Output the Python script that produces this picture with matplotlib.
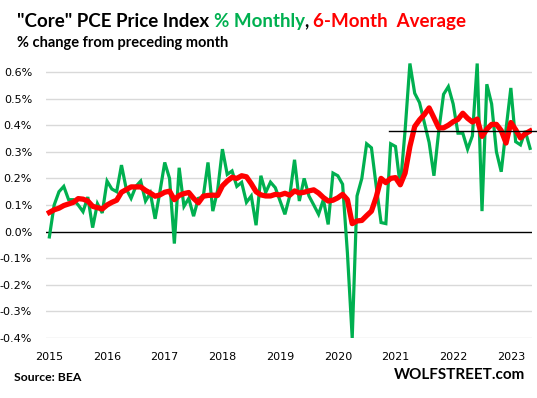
import matplotlib
matplotlib.use("Agg")
import matplotlib.pyplot as plt
from matplotlib.ticker import FuncFormatter

# monthly % change, Jan 2015 .. May 2023
monthly = [-0.02, 0.10, 0.15, 0.17, 0.12, 0.12, 0.10, 0.075, 0.13, 0.015, 0.105, 0.07,
           0.19, 0.16, 0.15, 0.25, 0.16, 0.125, 0.17, 0.19, 0.115, 0.145, 0.048, 0.15,
           0.26, 0.20, -0.045, 0.24, 0.095, 0.125, 0.058, 0.125, 0.13, 0.26, 0.077, 0.155,
           0.31, 0.215, 0.228, 0.17, 0.185, 0.11, 0.134, 0.024, 0.21, 0.147, 0.186, 0.165,
           0.115, 0.065, 0.134, 0.27, 0.115, 0.20, 0.134, 0.10, 0.065, 0.12, 0.027, 0.22,
           0.21, 0.178, -0.08, -0.40, 0.134, 0.20, 0.33, 0.315, 0.17, 0.034, 0.03, 0.33,
           0.32, 0.17, 0.38, 0.632, 0.52, 0.485, 0.41, 0.335, 0.21, 0.378, 0.516, 0.545,
           0.48, 0.37, 0.37, 0.31, 0.36, 0.632, 0.077, 0.554, 0.48, 0.30, 0.225, 0.385,
           0.54, 0.338, 0.326, 0.378, 0.313]

# 6-month average
avg6 = [0.072, 0.082, 0.088, 0.098, 0.104, 0.11, 0.124, 0.122, 0.115, 0.095, 0.09, 0.085,
        0.10, 0.11, 0.118, 0.148, 0.158, 0.168, 0.168, 0.168, 0.155, 0.145, 0.133, 0.138,
        0.148, 0.152, 0.12, 0.136, 0.143, 0.147, 0.125, 0.108, 0.133, 0.136, 0.137, 0.136,
        0.172, 0.19, 0.204, 0.20, 0.21, 0.206, 0.18, 0.15, 0.138, 0.134, 0.134, 0.14,
        0.138, 0.144, 0.137, 0.153, 0.145, 0.148, 0.153, 0.157, 0.145, 0.128, 0.115, 0.118,
        0.127, 0.14, 0.12, 0.03, 0.04, 0.042, 0.06, 0.077, 0.13, 0.20, 0.184, 0.20,
        0.203, 0.176, 0.22, 0.32, 0.395, 0.42, 0.44, 0.465, 0.428, 0.39, 0.39, 0.40,
        0.413, 0.422, 0.445, 0.426, 0.412, 0.423, 0.358, 0.385, 0.403, 0.403, 0.38, 0.333,
        0.41, 0.383, 0.352, 0.368, 0.378]

years = ["2015", "2016", "2017", "2018", "2019", "2020", "2021", "2022", "2023"]
ref_level = 0.38      # black reference line from early 2021
ref_start = 70.7

green = "#00B050"
red = "#FF0000"

x = list(range(len(monthly)))

fig = plt.figure(figsize=(5.37, 3.98), dpi=100)
ax = fig.add_axes([46/537, 1 - 338/398, 486/537, 279.3/398])

for v in [-0.4, -0.3, -0.2, -0.1, 0.1, 0.2, 0.3, 0.4, 0.5, 0.6]:
    ax.axhline(v, color="#D9D9D9", lw=1, zorder=0)
ax.axhline(0, color="black", lw=1, zorder=1)

ax.plot(x, monthly, color=green, lw=2.3, zorder=2, solid_joinstyle="miter")
ax.plot(x, avg6, color=red, lw=3.8, zorder=3)
ax.plot([ref_start, 102], [ref_level, ref_level], color="black", lw=1, zorder=4, clip_on=False)

ax.set_xlim(-0.7, 100.4)
ax.set_ylim(-0.4, 0.65)
ax.set_yticks([-0.4, -0.3, -0.2, -0.1, 0, 0.1, 0.2, 0.3, 0.4, 0.5, 0.6])
ax.yaxis.set_major_formatter(FuncFormatter(lambda v, p: f"{v:.1f}%"))
ax.set_xticks([12*i for i in range(len(years))])
ax.set_xticklabels(years)
ax.tick_params(length=0, labelsize=8, colors="black")
ax.tick_params(axis="x", pad=10)
ax.tick_params(axis="y", pad=10)
for s in ax.spines.values():
    s.set_visible(False)

# title in coloured pieces
fig.canvas.draw()
r = fig.canvas.get_renderer()
pieces = [('"Core" PCE Price Index ', "black"), ("% Monthly", green), (", ", "black"),
          ("6-Month  Average", red)]
xpos = 17 / 537
for txt, col in pieces:
    t = fig.text(xpos, 1 - 27/398, txt, color=col, fontsize=13.5, fontweight="bold",
                 family="Lato", va="baseline", ha="left")
    bb = t.get_window_extent(r)
    xpos += bb.width / fig.bbox.width

fig.text(17/537, 1 - 47/398, "% change from preceding month", fontsize=10.5,
         fontweight="bold", family="Lato", va="baseline")
fig.text(14/537, 1 - 381/398, "Source: BEA", fontsize=8.8, fontweight="bold",
         family="Lato", va="baseline")
fig.text(525/537, 1 - 379/398, "WOLFSTREET.com", fontsize=11, fontweight="bold",
         family="Lato", va="baseline", ha="right")

fig.savefig("out.png", dpi=100)
